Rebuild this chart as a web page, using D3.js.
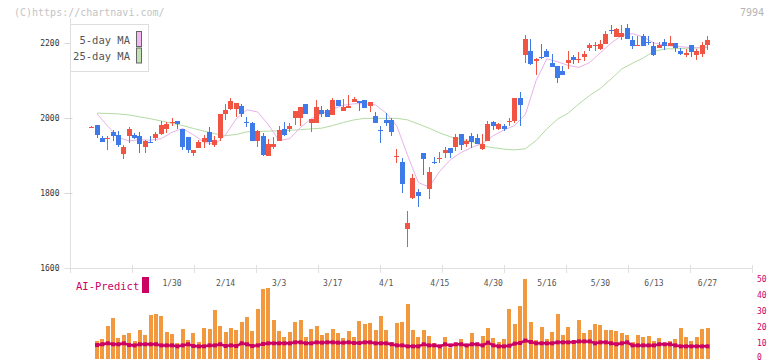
<!DOCTYPE html>
<html>
<head>
<meta charset="utf-8">
<script src="https://cdnjs.cloudflare.com/ajax/libs/d3/7.8.5/d3.min.js"></script>
<style>
  body { margin: 0; background: #fff; }
  svg { display: block; font-family: "DejaVu Sans Mono", "Liberation Mono", monospace; }
</style>
</head>
<body>
<div id="graph"></div>
<script>
// ---- data, one entry per trading day ----
const openP = [1975,1982,1947,1945,1962,1955,1903,1951,1955,1953,1924,1935,1948,1958,1970,1989,1992,1971,1949,1908,
  1919,1937,1963,1929,1948,2012,2024,2024,2032,1990,1986,1940,1953,1900,1924,1938,1971,1971,1999,1999,
  2038,1988,1988,2022,2022,2007,2049,2018,2028,2044,2046,2049,2031,2006,1968,1996,1994,1898,1884,1703,
  1788,1802,1907,1812,1882,1893,1906,1921,1923,1958,1931,1953,1947,1918,1940,1990,1971,1979,1990,1993,
  2054,2167,2180,2153,2163,2180,2148,2138,2126,2148,2164,2156,2162,2186,2195,2184,2198,2236,2216,2216,
  2241,2209,2191,2220,2204,2193,2186,2204,2191,2201,2180,2167,2196,2167,2172,2194];
const highP = [1978,1982,1953,1953,1969,1966,1929,1977,1960,1962,1942,1953,1963,1992,1989,2000,1992,1971,1949,1915,
  1942,1955,1977,1953,2010,2038,2054,2041,2038,2003,1990,1969,1960,1945,1949,1980,1990,1988,2019,2030,
  2038,1998,2049,2033,2024,2054,2049,2051,2062,2057,2046,2049,2043,2017,1980,2014,1999,1918,1894,1753,
  1851,1812,1907,1869,1896,1910,1923,1921,1958,1958,1945,1961,1958,1958,1993,1993,1987,1985,2001,2054,
  2070,2222,2212,2160,2198,2185,2172,2138,2138,2180,2169,2177,2180,2200,2204,2207,2231,2249,2241,2249,
  2252,2218,2218,2225,2218,2204,2204,2212,2220,2201,2188,2185,2196,2185,2204,2220];
const lowP = [1975,1948,1937,1916,1940,1924,1892,1933,1944,1908,1908,1933,1938,1955,1960,1980,1972,1915,1908,1898,
  1919,1919,1929,1922,1940,1995,2022,2002,2004,1975,1940,1924,1899,1900,1918,1938,1951,1962,1982,1980,
  2012,1962,1988,2003,2002,2007,2031,2018,2027,2042,2020,2028,2015,1986,1933,1980,1951,1880,1800,1655,
  1784,1764,1847,1784,1877,1880,1894,1894,1913,1915,1923,1921,1930,1916,1940,1969,1969,1966,1980,1988,
  1978,2147,2142,2116,2157,2164,2135,2094,2114,2131,2145,2147,2153,2178,2178,2182,2198,2225,2216,2209,
  2210,2184,2191,2191,2195,2166,2186,2182,2191,2177,2167,2164,2164,2154,2162,2182];
const closeP = [1977,1955,1937,1946,1951,1927,1923,1971,1948,1932,1939,1934,1958,1982,1983,1990,1983,1924,1915,1915,
  1937,1947,1937,1942,2010,2022,2046,2041,2012,1989,1940,1966,1902,1931,1931,1969,1955,1979,2019,2030,
  2012,1998,2030,2012,2004,2049,2031,2030,2033,2051,2040,2028,2043,1988,1966,1988,1964,1900,1823,1721,
  1841,1791,1890,1857,1881,1894,1915,1906,1950,1927,1939,1935,1930,1931,1985,1980,1985,1971,1991,2054,
  2034,2212,2145,2157,2162,2164,2135,2106,2114,2156,2156,2157,2172,2196,2196,2198,2225,2235,2238,2228,
  2210,2193,2196,2191,2203,2169,2196,2193,2201,2186,2170,2174,2175,2180,2196,2209];

// volume (bottom panel, right axis) - first day has no bar
const volume = [null,10.9,12.2,20.3,25.3,12.8,14.7,16.0,10.9,17.8,14.7,27.2,27.8,26.6,16.6,15.3,9.7,18.4,11.6,16.0,
  10.3,19.1,18.4,30.3,20.3,16.6,19.1,17.8,22.8,26.0,17.2,31.0,43.4,44.1,24.1,17.2,13.4,16.6,22.8,24.1,
  13.4,18.4,20.3,14.7,16.0,18.4,16.0,12.8,17.2,13.4,23.4,21.6,22.2,17.8,26.6,17.8,10.3,22.2,22.8,34.1,
  17.8,13.4,17.8,14.1,9.7,6.6,13.4,6.6,9.7,12.2,9.1,16.0,8.4,14.1,19.1,12.8,10.3,12.2,30.9,21.6,
  32.8,49.5,22.8,11.6,19.7,12.2,16.6,27.8,14.7,19.7,9.7,24.1,16.0,17.8,21.6,21.0,17.8,17.8,17.2,16.0,
  14.7,10.3,14.7,13.4,14.1,10.9,12.8,9.7,10.9,12.2,19.1,13.4,10.9,13.4,18.4,19.1];

// AI-Predict line
const aiPredict = [null,8.4,8.9,9.5,8.9,8.9,9.5,8.4,8.2,8.9,8.9,8.9,8.9,8.2,8.2,8.2,7.6,8.2,8.9,7.8,
  7.6,7.6,8.2,8.2,8.9,7.8,8.2,7.8,9.5,8.9,7.8,8.2,9.1,9.5,9.5,9.5,9.5,9.5,10.1,10.1,
  9.5,9.5,10.1,9.9,10.1,10.1,9.9,9.9,10.1,9.7,9.7,10.1,10.1,9.5,9.5,9.5,8.9,8.2,8.2,7.6,
  7.6,7.6,8.9,8.2,8.2,7.6,8.9,8.2,8.9,8.9,8.2,8.9,8.9,8.2,9.9,8.2,7.6,7.6,8.0,9.3,
  9.7,11.2,10.3,9.5,9.5,9.5,9.5,10.1,10.1,10.1,10.3,10.7,10.7,10.7,9.5,10.1,10.1,9.5,8.9,9.5,
  10.1,8.2,8.2,8.2,8.2,8.2,8.9,8.9,8.9,8.2,7.6,7.6,7.6,7.6,7.6,7.6];

// moving averages, read every second day (day number, value)
const maDays = [2,4,6,8,10,12,14,16,18,20,22,24,26,28,30,32,34,36,38,40,42,44,46,48,50,52,54,56,58,60,
  62,64,66,68,70,72,74,76,78,80,82,84,86,88,90,92,94,96,98,100,102,104,106,108,110,112,114,116];
const ma5 = [2011,1978,1948,1939,1942,1941,1945,1962,1972,1955,1935,1930,1955,1998,2022,2016,1982,1940,1945,1975,
  1998,2012,2024,2034,2038,2038,2035,2013,1978,1900,1828,1816,1858,1889,1908,1922,1932,1953,1968,1980,
  2010,2100,2158,2150,2140,2135,2148,2174,2200,2220,2225,2216,2200,2194,2191,2189,2187,2190];
const ma25 = [2013,2012,2011,2008,2003,1998,1992,1986,1980,1972,1965,1958,1953,1956,1963,1964,1965,1966,1967,1969,
  1971,1973,1980,1988,1995,1999,1999,1999,1999,1995,1984,1973,1960,1950,1943,1937,1925,1921,1917,1915,
  1918,1940,1971,1997,2013,2038,2060,2079,2104,2131,2146,2160,2178,2184,2185,2186,2187,2188];

// tick labels
const yTicks = [1600, 1800, 2000, 2200];
const volTicks = [0, 10, 20, 30, 40, 50];
const xLabels = ["1/30","2/14","3/3","3/17","4/1","4/15","4/30","5/16","5/30","6/13","6/27"];
const xLabelDays = [16,26,36,46,56,66,76,86,96,106,116];

// ---- chart ----
const w = 772;
const h = 361;

const upColor = "#f25443";
const downColor = "#3e7be8";
const aiColor = "#cc0063";

const days = d3.range(1, openP.length + 1);

const x = d3.scaleLinear().domain([1, days.length]).range([91.7, 707.5]);
const y = d3.scaleLinear().domain([1600, 2200]).range([268, 43]);
const yVol = d3.scaleLinear().domain([0, 50]).range([358.5, 278.5]);
// 11 equal divisions of the bottom axis
const gridX = d3.scaleLinear().domain([0, 11]).range([70, 752]);

const svg = d3.select("#graph")
  .append("svg")
  .attr("width", w)
  .attr("height", h);

svg.append("rect").attr("width", w).attr("height", h).attr("fill", "#fff");

// copyright + code
svg.append("text").attr("x", 14).attr("y", 16)
  .attr("font-size", 10).attr("fill", "#c4c4c4")
  .text("(C)https://chartnavi.com/");
svg.append("text").attr("x", 764).attr("y", 16).attr("text-anchor", "end")
  .attr("font-size", 10).attr("fill", "#b4b4b4")
  .text("7994");

// y axis
const yAxis = d3.axisLeft(y).tickValues(yTicks).tickSize(6).tickPadding(5).tickFormat(d3.format("d"));
const gy = svg.append("g")
  .attr("transform", "translate(70.5,0)")
  .call(yAxis);
gy.select(".domain").attr("stroke", "#e0e0e0").attr("d", "M0,18V268.5");
gy.selectAll(".tick line").attr("stroke", "#d8d8d8").attr("x2", -6).attr("x1", 2);
gy.selectAll(".tick text").attr("font-size", 8).attr("fill", "#333")
  .attr("font-family", "DejaVu Sans Mono, monospace");

// bottom axis line + ticks
svg.append("line")
  .attr("x1", 65).attr("x2", 752).attr("y1", 268.5).attr("y2", 268.5)
  .attr("stroke", "#e0e0e0");
svg.append("g").selectAll("line")
  .data(d3.range(12))
  .enter()
  .append("line")
  .attr("x1", (d) => Math.round(gridX(d)) + 0.5)
  .attr("x2", (d) => Math.round(gridX(d)) + 0.5)
  .attr("y1", 265).attr("y2", 273)
  .attr("stroke", "#e0e0e0");

// date labels
svg.append("g").selectAll("text")
  .data(xLabels)
  .enter()
  .append("text")
  .attr("x", (d, i) => x(xLabelDays[i]))
  .attr("y", 285.5)
  .attr("text-anchor", "middle")
  .attr("font-size", 8)
  .attr("fill", "#555")
  .text((d) => d);

// moving averages
const maLine = d3.line().x((d, i) => x(maDays[i])).y((d) => y(d));
svg.append("path")
  .attr("d", maLine(ma25))
  .attr("fill", "none")
  .attr("stroke", "#b4dba4")
  .attr("stroke-width", 1);
svg.append("path")
  .attr("d", maLine(ma5))
  .attr("fill", "none")
  .attr("stroke", "#e8b2ea")
  .attr("stroke-width", 1);

// candles
const candles = svg.append("g").attr("shape-rendering", "crispEdges");
const candle = candles.selectAll("g")
  .data(days)
  .enter()
  .append("g");

candle.append("line")
  .attr("x1", (d) => Math.round(x(d) - 2.5) + 2.5)
  .attr("x2", (d) => Math.round(x(d) - 2.5) + 2.5)
  .attr("y1", (d) => y(highP[d - 1]))
  .attr("y2", (d) => y(lowP[d - 1]))
  .attr("stroke", (d) => closeP[d - 1] >= openP[d - 1] ? upColor : downColor)
  .attr("stroke-width", 1);

candle.append("rect")
  .attr("x", (d) => Math.round(x(d) - 2.5))
  .attr("width", 5)
  .attr("y", (d) => y(Math.max(openP[d - 1], closeP[d - 1])))
  .attr("height", (d) => Math.max(1, Math.abs(y(openP[d - 1]) - y(closeP[d - 1]))))
  .attr("fill", (d) => closeP[d - 1] >= openP[d - 1] ? upColor : downColor);

// legend
const legend = svg.append("g");
legend.append("rect")
  .attr("x", 70.5).attr("y", 24.5).attr("width", 78).attr("height", 47)
  .attr("fill", "#fff").attr("stroke", "#dedede");
const legendItems = [["5-day MA", "#f0baf0"], ["25-day MA", "#c2e2b4"]];
legendItems.forEach((item, i) => {
  legend.append("text")
    .attr("x", 130).attr("y", 43.5 + i * 16.5)
    .attr("text-anchor", "end")
    .attr("font-size", 10.5)
    .attr("fill", "#555")
    .text(item[0]);
  legend.append("rect")
    .attr("x", 136.5).attr("y", 31.5 + i * 16.5)
    .attr("width", 5).attr("height", 15)
    .attr("fill", item[1]).attr("stroke", "#666");
});

// ---- bottom panel: volume + AI-Predict ----
svg.append("text").attr("x", 76).attr("y", 290)
  .attr("font-size", 10.5).attr("fill", aiColor)
  .text("AI-Predict");
svg.append("rect").attr("x", 142).attr("y", 277).attr("width", 7).attr("height", 16)
  .attr("fill", aiColor);

svg.append("g")
  .attr("shape-rendering", "crispEdges")
  .selectAll("rect")
  .data(days.filter((d) => volume[d - 1] !== null))
  .enter()
  .append("rect")
  .attr("x", (d) => Math.round(x(d) - 2))
  .attr("width", 4)
  .attr("y", (d) => yVol(volume[d - 1]))
  .attr("height", (d) => yVol(0) - yVol(volume[d - 1]))
  .attr("fill", "#f2983f");

const aiDays = days.filter((d) => aiPredict[d - 1] !== null);
const aiLine = d3.line().x((d) => x(d)).y((d) => yVol(aiPredict[d - 1]));
svg.append("path")
  .attr("d", aiLine(aiDays))
  .attr("fill", "none")
  .attr("stroke", aiColor)
  .attr("stroke-width", 2.5);
svg.append("g").selectAll("rect")
  .data(aiDays)
  .enter()
  .append("rect")
  .attr("x", (d) => x(d) - 2)
  .attr("y", (d) => yVol(aiPredict[d - 1]) - 2)
  .attr("width", 4).attr("height", 4)
  .attr("fill", aiColor);

// right axis labels of the bottom panel (lowest one kept inside the frame)
svg.append("g").selectAll("text")
  .data(volTicks)
  .enter()
  .append("text")
  .attr("x", 757)
  .attr("y", (d) => Math.min(yVol(d) + 3, h - 1.5))
  .attr("font-size", 8)
  .attr("fill", aiColor)
  .text((d) => d);
</script>
</body>
</html>
